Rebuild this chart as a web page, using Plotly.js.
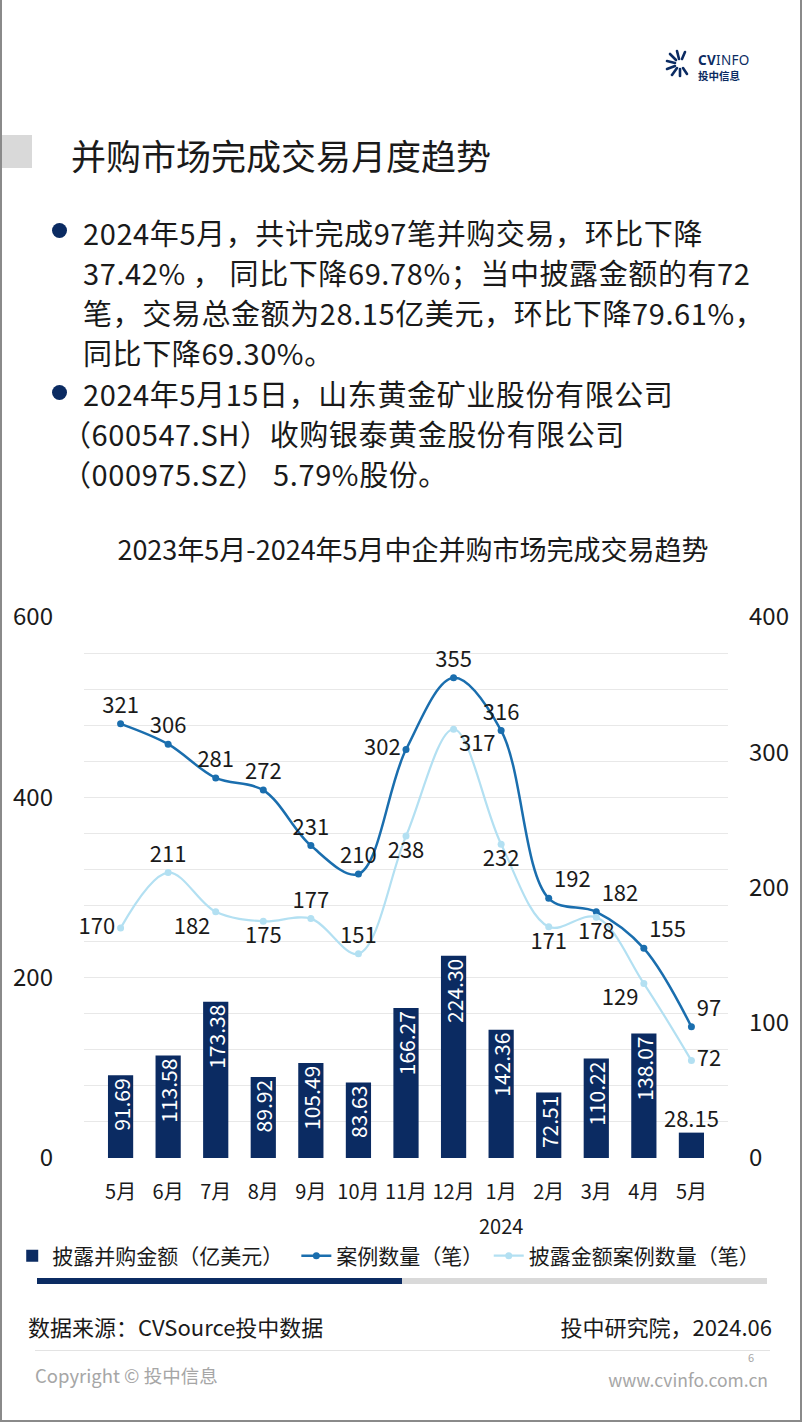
<!DOCTYPE html>
<html><head><meta charset="utf-8">
<script src="https://cdn.plot.ly/plotly-3.0.1.min.js"></script>
<style>
html,body{margin:0;padding:0;background:#fff;}
body{width:802px;height:1424px;position:relative;overflow:hidden;font-family:"Noto Sans CJK SC","Noto Sans",sans-serif;}
#frame{position:absolute;left:0;top:-2px;width:798px;height:1422px;border:2px solid #8a8a8a;border-top:none;z-index:5;pointer-events:none;}
.abs{position:absolute;white-space:nowrap;z-index:3;}
#chart{position:absolute;left:0;top:0;width:802px;height:1424px;z-index:1;}
.bl{font-size:29px;color:#1a1a1a;line-height:40px;letter-spacing:0.6px;}
.dot{position:absolute;width:15px;height:15px;border-radius:50%;background:#0b2b62;}
</style></head>
<body>
<div id="chart"></div>
<div id="frame"></div>
<!-- logo -->
<svg class="abs" style="left:664px;top:48px" width="30" height="30" viewBox="0 0 30 30">
 <g stroke="#0b2b62" stroke-width="2.6" stroke-linecap="round">
  <line x1="15" y1="11" x2="13" y2="3"/><line x1="12" y1="12" x2="6" y2="6"/>
  <line x1="11" y1="15" x2="3" y2="13"/><line x1="11" y1="18" x2="3" y2="21"/>
  <line x1="13" y1="20" x2="8" y2="27"/><line x1="16" y1="21" x2="16" y2="28"/>
  <line x1="18" y1="11" x2="21" y2="4"/><line x1="19" y1="20" x2="23" y2="26"/>
 </g></svg>
<div class="abs" style="left:698px;top:51px;font-family:'Noto Sans',sans-serif;font-size:13.5px;color:#0b2b62;line-height:18px;letter-spacing:0.3px"><b>CV</b>INFO</div>
<div class="abs" style="left:698px;top:68px;font-size:10.5px;font-weight:bold;color:#0b2b62;line-height:15px">投中信息</div>
<!-- header -->
<div class="abs" style="left:0;top:135px;width:32px;height:33px;background:#d9d9d9"></div>
<div class="abs" style="left:71px;top:132px;font-size:35px;color:#1a1a1a;line-height:46px">并购市场完成交易月度趋势</div>
<!-- bullets -->
<div class="dot" style="left:52px;top:223px;z-index:3"></div>
<div class="abs bl" style="left:83px;top:212px">2024年5月，共计完成97笔并购交易，环比下降<br>37.42% ， 同比下降69.78%；当中披露金额的有72<br>笔，交易总金额为28.15亿美元，环比下降79.61%，<br>同比下降69.30%。</div>
<div class="dot" style="left:52px;top:385px;z-index:3"></div>
<div class="abs bl" style="left:83px;top:373px">2024年5月15日，山东黄金矿业股份有限公司</div>
<div class="abs bl" style="left:62px;top:413px">（600547.SH）收购银泰黄金股份有限公司<br>（000975.SZ） 5.79%股份。</div>
<!-- progress bar -->
<div class="abs" style="left:37px;top:1278px;width:365px;height:6px;background:#0b2b62"></div>
<div class="abs" style="left:402px;top:1278px;width:365px;height:6px;background:#d9d9d9"></div>
<!-- source -->
<div class="abs" style="left:28px;top:1310px;font-size:22px;color:#1a1a1a;line-height:32px">数据来源：CVSource投中数据</div>
<div class="abs" style="right:30px;top:1310px;font-size:22px;color:#1a1a1a;line-height:32px">投中研究院，2024.06</div>
<div class="abs" style="left:35px;top:1350px;width:735px;height:1px;background:#e3e3e3"></div>
<div class="abs" style="left:35px;top:1361px;font-size:18.5px;color:#a6a6a6;line-height:28px">Copyright © 投中信息</div>
<div class="abs" style="right:48px;top:1350px;font-size:11px;color:#a6a6a6;line-height:14px">6</div>
<div class="abs" style="right:34px;top:1366px;font-size:17.5px;color:#a6a6a6;line-height:28px">www.cvinfo.com.cn</div>
<script>
const months = ["2023-05","2023-06","2023-07","2023-08","2023-09","2023-10","2023-11","2023-12","2024-01","2024-02","2024-03","2024-04","2024-05"];
const monthLabels = ["5月","6月","7月","8月","9月","10月","11月","12月","1月","2月","3月","4月","5月"];
const amount = [91.69,113.58,173.38,89.92,105.49,83.63,166.27,224.30,142.36,72.51,110.22,138.07,28.15];
const deals = [321,306,281,272,231,210,302,355,316,192,182,155,97];
const disclosedDeals = [170,211,182,175,177,151,238,317,232,171,178,129,72];
const yearLabel = "2024";
const seriesNames = ["披露并购金额（亿美元）","案例数量（笔）","披露金额案例数量（笔）"];

const FONT = '"Noto Sans CJK SC","Noto Sans",sans-serif';
const last = amount.length - 1;
const barPos = amount.map((v,i)=> i===last ? 'none' : 'inside');

const traces = [
 {type:'bar', name:seriesNames[0], legend:'legend', x:months, y:amount, yaxis:'y',
  marker:{color:'#0b2b62'}, width:0.53,
  text:amount.map(v=>v.toFixed(2)), textposition:barPos, textangle:-90,
  insidetextanchor:'end', textfont:{color:'#ffffff', size:21, family:FONT},
  hoverinfo:'skip'},
 {type:'scatter', mode:'text', x:[months[last]], y:[amount[last]], yaxis:'y',
  text:[amount[last].toFixed(2)], textposition:'top center',
  textfont:{color:'#1a1a1a', size:22, family:FONT}, showlegend:false, cliponaxis:false, hoverinfo:'skip'},
 {type:'scatter', mode:'lines+markers+text', name:seriesNames[1], legend:'legend2', x:months, y:deals, yaxis:'y2',
  line:{color:'#1a6eae', width:2.5, shape:'spline', smoothing:1}, marker:{color:'#1a6eae', size:7},
  text:deals.map(String),
  textposition:['top center','top center','top center','top center','top center','top center','middle left','top center','top center','top right','top right','top right','top right'],
  textfont:{color:'#1a1a1a', size:22, family:FONT}, cliponaxis:false},
 {type:'scatter', mode:'lines+markers+text', name:seriesNames[2], legend:'legend3', x:months, y:disclosedDeals, yaxis:'y2',
  line:{color:'#b3e0f2', width:2.2, shape:'spline', smoothing:1}, marker:{color:'#b3e0f2', size:7},
  text:disclosedDeals.map(String),
  textposition:['middle left','top center','bottom left','bottom center','top center','top center','bottom center','bottom right','bottom center','bottom center','bottom center','bottom left','middle right'],
  textfont:{color:'#1a1a1a', size:22, family:FONT}, cliponaxis:false}
];

const W=802, H=1424, L=82, R=728, T=617, B=1158;
const legY = (B-1256)/(B-T);
const legBase = {orientation:'h', xanchor:'left', y:legY, yanchor:'middle',
  font:{size:21, color:'#1a1a1a', family:FONT}, itemwidth:30, bgcolor:'rgba(0,0,0,0)'};
const layout = {
 width:W, height:H,
 margin:{l:L, r:W-R, t:T, b:H-B, pad:0},
 paper_bgcolor:'rgba(0,0,0,0)', plot_bgcolor:'rgba(0,0,0,0)',
 font:{family:FONT, color:'#1a1a1a'},
 title:{text:'2023年5月-2024年5月中企并购市场完成交易趋势', font:{size:27, color:'#1a1a1a', family:FONT},
  xref:'container', x:413/W, xanchor:'center', yref:'container', y:1-551/H, yanchor:'middle'},
 bargap:0.47,
 uniformtext:{mode:'show', minsize:21},
 xaxis:{type:'category', tickvals:months, ticktext:monthLabels, tickfont:{size:20}, showgrid:false,
  zeroline:false, showline:false, ticks:'', ticklabelstandoff:20, fixedrange:true},
 yaxis:{range:[0,600], dtick:200, tickfont:{size:24}, showgrid:true, gridcolor:'#e8e8e8', gridwidth:1,
  minor:{dtick:40, showgrid:true, gridcolor:'#e8e8e8', gridwidth:1},
  zeroline:false, showline:false, ticks:'', ticklabelstandoff:30},
 yaxis2:{range:[0,400], dtick:100, overlaying:'y', side:'right', tickfont:{size:24}, showgrid:false,
  zeroline:false, showline:false, ticks:'', ticklabelstandoff:20},
 showlegend:true,
 legend:Object.assign({}, legBase, {x:(10-L)/(R-L)}),
 legend2:Object.assign({}, legBase, {x:(295-L)/(R-L)}),
 legend3:Object.assign({}, legBase, {x:(488-L)/(R-L)}),
 annotations:[{text:yearLabel, xref:'x', x:months[8], yref:'paper', y:(B-1225)/(B-T), yanchor:'middle',
  showarrow:false, font:{size:20, color:'#1a1a1a', family:FONT}}]
};
Plotly.newPlot('chart', traces, layout, {displayModeBar:false, staticPlot:true});
</script>
</body></html>
